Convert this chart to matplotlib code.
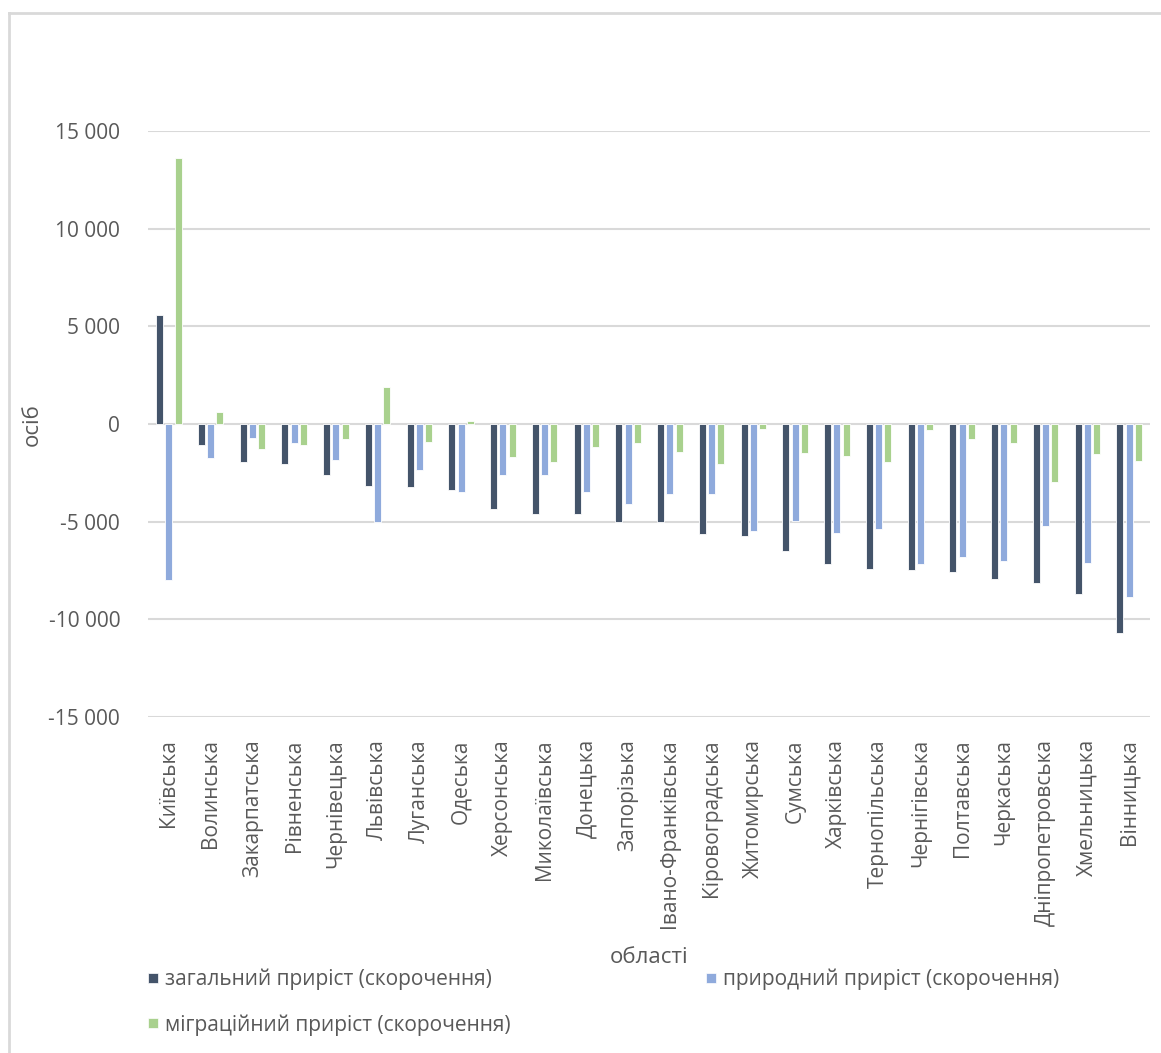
import numpy as np
import matplotlib
matplotlib.use("Agg")
import matplotlib.pyplot as plt
from matplotlib.lines import Line2D
from matplotlib.ticker import FuncFormatter

plt.rcParams['font.family'] = ['Open Sans', 'DejaVu Sans']

regions = ["Київська", "Волинська", "Закарпатська", "Рівненська", "Чернівецька",
           "Львівська", "Луганська", "Одеська", "Херсонська", "Миколаївська",
           "Донецька", "Запорізька", "Івано-Франківська", "Кіровоградська",
           "Житомирська", "Сумська", "Харківська", "Тернопільська", "Чернігівська",
           "Полтавська", "Черкаська", "Дніпропетровська", "Хмельницька", "Вінницька"]

total = [5580, -1100, -1950, -2030, -2630, -3170, -3220, -3360, -4340, -4630,
         -4630, -5020, -5020, -5610, -5750, -6480, -7190, -7400, -7480, -7600,
         -7960, -8140, -8680, -10720]
natural = [-8000, -1760, -700, -970, -1830, -5020, -2360, -3480, -2630, -2630,
           -3490, -4090, -3560, -3560, -5480, -4950, -5600, -5400, -7190, -6800,
           -7000, -5200, -7130, -8880]
migration = [13600, 600, -1290, -1100, -780, 1870, -900, 140, -1700, -1970,
             -1170, -970, -1420, -2030, -240, -1490, -1640, -1970, -290, -780,
             -970, -2970, -1560, -1900]

labels = ["загальний приріст (скорочення)", "природний приріст (скорочення)",
          "міграційний приріст (скорочення)"]
colors = ["#44546A", "#8FAADC", "#A9D18E"]
text_col = "#595959"

fig = plt.figure(figsize=(11.61, 10.53), dpi=100)
ax = fig.add_axes([0.1275, 0.3191, 0.863, 0.5565])

x = np.arange(len(regions))
w = 0.168
off = 0.222
for i, (vals, c) in enumerate(zip([total, natural, migration], colors)):
    ax.bar(x + (i - 1) * off, vals, width=w, color=c, edgecolor="white",
           linewidth=0.6, zorder=3)

ax.set_xlim(-0.5, len(regions) - 0.5)
ax.set_ylim(-15000, 15000)
ax.set_yticks(np.arange(-15000, 15001, 5000))
ax.yaxis.set_major_formatter(FuncFormatter(
    lambda v, p: "{:,.0f}".format(v).replace(",", " ")))
ax.grid(axis="y", color="#d9d9d9", linewidth=1.5, zorder=0)
for s in ax.spines.values():
    s.set_visible(False)
ax.tick_params(axis="both", length=0, colors=text_col, labelsize=15)
ax.tick_params(axis="y", pad=20)
ax.tick_params(axis="x", pad=16)
ax.set_xticks(x)
ax.set_xticklabels(regions, rotation=90, fontsize=15, color=text_col)

fig.text(0.028, 0.597, "осіб", rotation=90, ha="center", va="center",
         fontsize=16, color=text_col)
fig.text(0.559, 0.091, "області", ha="center", va="center",
         fontsize=16, color=text_col)

# square legend markers like in Excel
handles = [Line2D([], [], ls="none", marker="s", markersize=7,
                  markerfacecolor=c, markeredgecolor="white", markeredgewidth=0.5)
           for c in colors]
fig.legend([handles[0], handles[2], handles[1]], [labels[0], labels[2], labels[1]],
           ncol=2, loc="upper left", bbox_to_anchor=(0.119, 0.088),
           frameon=False, fontsize=15, labelcolor=text_col,
           handlelength=0.6, handletextpad=0.3,
           columnspacing=9.3, labelspacing=1.15, borderaxespad=0)

# border of the chart area (top and left only visible)
fig.add_artist(plt.Line2D([9 / 1161, 9 / 1161], [0, 1 - 13 / 1053],
                          transform=fig.transFigure, color="#d9d9d9", lw=2))
fig.add_artist(plt.Line2D([9 / 1161, 1], [1 - 13 / 1053, 1 - 13 / 1053],
                          transform=fig.transFigure, color="#d9d9d9", lw=2))

fig.savefig("out.png", dpi=100)
